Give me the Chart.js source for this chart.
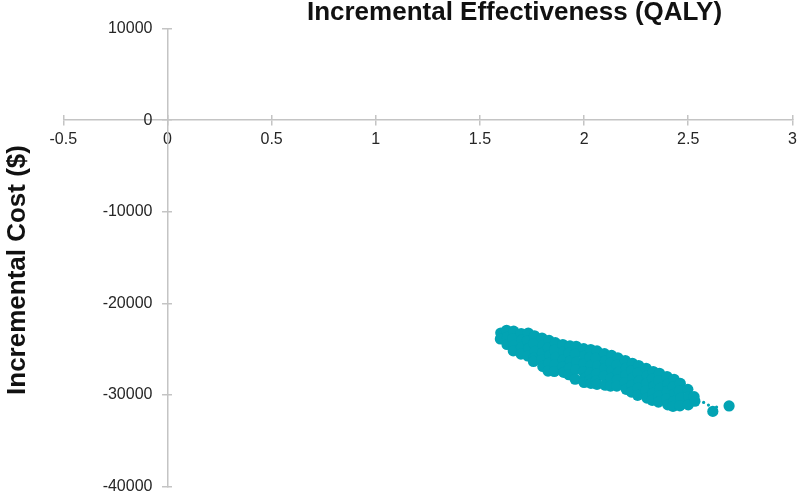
<!DOCTYPE html>
<html>
<head>
<meta charset="utf-8">
<script src="https://cdn.jsdelivr.net/npm/chart.js@4/dist/chart.umd.min.js"></script>
<style>
  html, body { margin: 0; padding: 0; background: #ffffff; }
  #wrap { width: 798px; height: 492px; position: relative; }
</style>
</head>
<body>
<div id="wrap"><canvas id="c"></canvas></div>
<script>
// ---- data ----
const chartTitle = 'Incremental Effectiveness (QALY)';
const yAxisTitle = 'Incremental Cost ($)';
const xTickValues = [-0.5, 0, 0.5, 1, 1.5, 2, 2.5, 3];
const yTickValues = [-40000, -30000, -20000, -10000, 0, 10000];

// simulated ICER pairs: incremental QALY
const qaly = [
  1.600, 1.598,
  1.628, 1.632, 1.630,
  1.662, 1.658, 1.664, 1.660,
  1.698, 1.703, 1.700, 1.697,
  1.732, 1.728, 1.735, 1.730,
  1.762, 1.758, 1.765, 1.760, 1.757,
  1.798, 1.803, 1.800, 1.797, 1.802,
  1.832, 1.828, 1.835, 1.830, 1.827,
  1.862, 1.858, 1.865, 1.860, 1.857,
  1.898, 1.903, 1.900, 1.897, 1.902,
  1.932, 1.928, 1.935, 1.930, 1.927,
  1.962, 1.958, 1.965, 1.960, 1.957,
  1.998, 2.003, 2.000, 1.997, 2.002, 2.000,
  2.032, 2.028, 2.035, 2.030, 2.027, 2.033,
  2.062, 2.058, 2.065, 2.060, 2.057, 2.062,
  2.098, 2.103, 2.100, 2.097, 2.102,
  2.132, 2.128, 2.135, 2.130, 2.127,
  2.162, 2.158, 2.165, 2.160, 2.157,
  2.198, 2.203, 2.200, 2.197, 2.202,
  2.232, 2.228, 2.235, 2.230, 2.227,
  2.262, 2.258, 2.265, 2.260, 2.257,
  2.298, 2.303, 2.300, 2.297, 2.302,
  2.332, 2.328, 2.335, 2.330, 2.327,
  2.362, 2.358, 2.365, 2.360, 2.357,
  2.398, 2.403, 2.400, 2.397, 2.402,
  2.432, 2.428, 2.435, 2.430, 2.427,
  2.462, 2.458, 2.465, 2.460,
  2.498, 2.503, 2.500,
  2.528, 2.532,
  2.618, 2.696
];
// incremental cost ($)
const cost = [
  -23250, -23900,
  -22950, -23700, -24500,
  -23050, -23850, -24600, -25200,
  -23300, -24000, -24800, -25550,
  -23250, -24100, -24900, -25750,
  -23550, -24400, -25250, -26000, -26350,
  -23800, -24600, -25450, -26200, -26900,
  -24050, -24850, -25700, -26550, -27400,
  -24300, -25100, -25900, -26700, -27450,
  -24500, -25300, -26150, -26950, -27550,
  -24650, -25450, -26300, -27100, -27800,
  -24700, -25550, -26400, -27250, -28300,
  -24950, -25750, -26600, -27450, -28200, -28650,
  -25050, -25900, -26750, -27600, -28400, -28750,
  -25200, -26000, -26850, -27700, -28500, -28850,
  -25500, -26300, -27100, -27950, -28950,
  -25700, -26500, -27350, -28200, -29050,
  -25950, -26750, -27550, -28350, -29050,
  -26250, -27050, -27850, -28650, -29400,
  -26550, -27350, -28150, -28950, -29700,
  -26800, -27600, -28450, -29250, -30050,
  -27100, -27900, -28750, -29550, -30350,
  -27450, -28250, -29050, -29850, -30600,
  -27650, -28450, -29300, -30100, -30800,
  -28000, -28800, -29600, -30400, -31100,
  -28300, -29100, -29900, -30700, -31250,
  -28750, -29550, -30350, -31200,
  -29400, -30200, -31100,
  -30200, -30700,
  -31810, -31210
];
// tiny marks in the tail
const tailQaly = [2.574, 2.597, 2.636];
const tailCost = [-30830, -31120, -31340];

// ---- styling ----
const teal = '#02a3b3';
const axisGrey = '#c4c4c4';
const tickFont = { family: "'Liberation Sans', Arial, sans-serif", size: 16 };
const labelColor = '#262626';
const yLabelGap = 15; // distance between y tick labels and the axis line

const points = qaly.map((q, i) => ({ x: q, y: cost[i] }));
const tailPoints = tailQaly.map((q, i) => ({ x: q, y: tailCost[i] }));

const zeroPad = (s) => { s.paddingTop = 0; s.paddingBottom = 0; s.paddingLeft = 0; s.paddingRight = 0; };

// y labels of an axis placed at x=0 are drawn flush with the axis; move them left of the tick marks
const yLabelShift = {
  id: 'yLabelShift',
  beforeDraw(chart) {
    const s = chart.scales.y;
    const items = s.getLabelItems(chart.chartArea);
    if (!s._shifted) {
      items.forEach(it => { it.options.translation[0] -= yLabelGap; });
      s._shifted = true;
    }
  },
  afterUpdate(chart) { chart.scales.y._shifted = false; }
};

const titlePlugin = {
  id: 'customTitles',
  afterDraw(chart) {
    const ctx = chart.ctx;
    ctx.save();
    ctx.fillStyle = '#111111';
    ctx.font = "bold 26px 'Liberation Sans', Arial, sans-serif";
    ctx.textAlign = 'center';
    ctx.textBaseline = 'alphabetic';
    ctx.fillText(chartTitle, 514.5, 19.5);
    ctx.translate(24.5, 270);
    ctx.rotate(-Math.PI / 2);
    ctx.fillText(yAxisTitle, 0, 0);
    ctx.restore();
  }
};

new Chart(document.getElementById('c'), {
  type: 'scatter',
  data: {
    datasets: [
      {
        data: points,
        backgroundColor: teal,
        borderWidth: 0,
        pointRadius: 5.6,
        pointHoverRadius: 5.6
      },
      {
        data: tailPoints,
        backgroundColor: teal,
        borderWidth: 0,
        pointRadius: 1.6,
        pointHoverRadius: 1.6
      }
    ]
  },
  options: {
    responsive: true,
    maintainAspectRatio: false,
    animation: false,
    events: [],
    layout: { padding: { left: 63.3, right: 4.7, top: 28.6, bottom: 5.3 } },
    plugins: {
      legend: { display: false },
      title: { display: false },
      tooltip: { enabled: false }
    },
    scales: {
      x: {
        type: 'linear',
        position: { y: 0 },
        min: -0.5,
        max: 3,
        afterBuildTicks: (s) => { s.ticks = xTickValues.map(v => ({ value: v })); },
        afterFit: zeroPad,
        ticks: {
          color: labelColor,
          font: tickFont,
          padding: 5,
          maxRotation: 0,
          autoSkip: false,
          callback: (v) => String(v)
        },
        grid: { drawOnChartArea: false, drawTicks: true, tickLength: 5, color: axisGrey, lineWidth: 1.5 },
        border: { display: true, color: axisGrey, width: 1.5 }
      },
      y: {
        type: 'linear',
        position: { x: 0 },
        min: -40000,
        max: 10000,
        afterBuildTicks: (s) => { s.ticks = yTickValues.map(v => ({ value: v })); },
        afterFit: zeroPad,
        ticks: {
          color: labelColor,
          font: tickFont,
          padding: 10,
          autoSkip: false,
          callback: (v) => String(v)
        },
        grid: { drawOnChartArea: false, drawTicks: true, tickLength: 5, color: axisGrey, lineWidth: 1.5 },
        border: { display: true, color: axisGrey, width: 1.5 }
      },
      x2: {
        type: 'linear',
        axis: 'x',
        position: { y: 0 },
        min: -0.5,
        max: 3,
        afterBuildTicks: (s) => { s.ticks = xTickValues.map(v => ({ value: v })); },
        afterFit: zeroPad,
        ticks: { display: false },
        grid: { drawOnChartArea: false, drawTicks: true, tickLength: -5, color: axisGrey, lineWidth: 1.5 },
        border: { display: false }
      },
      y2: {
        type: 'linear',
        axis: 'y',
        position: { x: 0 },
        min: -40000,
        max: 10000,
        afterBuildTicks: (s) => { s.ticks = yTickValues.map(v => ({ value: v })); },
        afterFit: zeroPad,
        ticks: { display: false },
        grid: { drawOnChartArea: false, drawTicks: true, tickLength: -5, color: axisGrey, lineWidth: 1.5 },
        border: { display: false }
      }
    }
  },
  plugins: [yLabelShift, titlePlugin]
});
</script>
</body>
</html>
